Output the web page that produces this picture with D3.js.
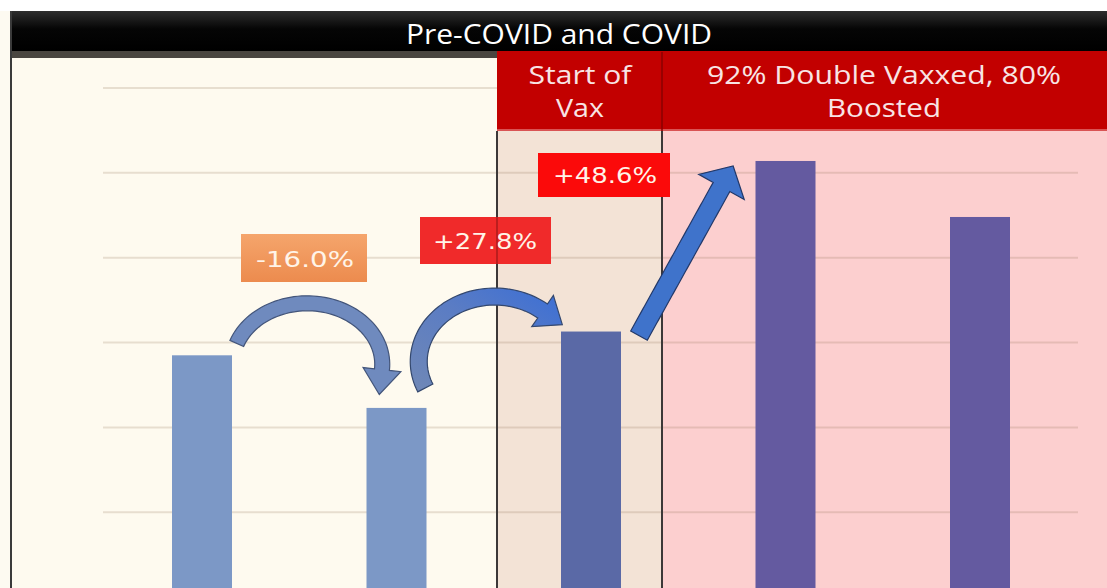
<!DOCTYPE html>
<html>
<head>
<meta charset="utf-8">
<script src="https://cdn.jsdelivr.net/npm/d3@7"></script>
<style>
  html, body { margin: 0; padding: 0; background: #ffffff; }
  svg { display: block; }
</style>
</head>
<body>
<script>
'use strict';

// chart data (arbitrary units)
const periods = ["P1", "P2", "P3", "P4", "P5"];
const values = [385, 323, 413, 614, 548];
const barColors = ["#7c98c6", "#7c98c6", "#5a69a6", "#645aa0", "#645aa0"];
const gridTicks = [100, 200, 300, 400, 500, 600, 700];
const changeLabels = ["-16.0%", "+27.8%", "+48.6%"];
const title = "Pre-COVID and COVID";
const phaseHeaders = [["Start of", "Vax"], ["92% Double Vaxxed, 80%", "Boosted"]];

(function() {
  const W = 1107, H = 588;
  const left = 11, top = 11;
  const split1 = 497, split2 = 662;   // phase boundaries
  const headerBottom = 131;

  const svg = d3.select('body').append('svg')
    .attr('width', W)
    .attr('height', H);

  const defs = svg.append('defs');
  const gTitle = defs.append('linearGradient').attr('id', 'titleGrad')
    .attr('x1', 0).attr('y1', 0).attr('x2', 0).attr('y2', 1);
  gTitle.append('stop').attr('offset', '0%').attr('stop-color', '#2e2e2e');
  gTitle.append('stop').attr('offset', '45%').attr('stop-color', '#050505');
  gTitle.append('stop').attr('offset', '100%').attr('stop-color', '#000000');

  const gOrange = defs.append('linearGradient').attr('id', 'orangeGrad')
    .attr('x1', 0).attr('y1', 0).attr('x2', 0).attr('y2', 1);
  gOrange.append('stop').attr('offset', '0%').attr('stop-color', '#f5a56c');
  gOrange.append('stop').attr('offset', '100%').attr('stop-color', '#ec8b4e');

  const gArrow2 = defs.append('linearGradient').attr('id', 'arrow2Grad')
    .attr('x1', 0).attr('y1', 1).attr('x2', 1).attr('y2', 0);
  gArrow2.append('stop').attr('offset', '0%').attr('stop-color', '#7088b6');
  gArrow2.append('stop').attr('offset', '55%').attr('stop-color', '#5a7cc4');
  gArrow2.append('stop').attr('offset', '100%').attr('stop-color', '#3a6ed6');

  // scales
  const x = d3.scalePoint().domain(periods).range([202, 980]);
  const y = d3.scaleLinear().domain([0, 700]).range([682, 88]);
  const barW = 60;

  // backgrounds
  svg.append('rect').attr('x', 0).attr('y', top).attr('width', left).attr('height', H - top)
    .attr('fill', '#fdfaf1');
  svg.append('rect').attr('x', left).attr('y', 58).attr('width', split1 - left).attr('height', H - 58)
    .attr('fill', '#fefaef');
  svg.append('rect').attr('x', split1).attr('y', headerBottom).attr('width', split2 - split1).attr('height', H - headerBottom)
    .attr('fill', '#f3e3d6');
  svg.append('rect').attr('x', split2).attr('y', headerBottom).attr('width', W - split2).attr('height', H - headerBottom)
    .attr('fill', '#fccfcf');

  // gridlines
  svg.append('g')
    .selectAll('line')
    .data(gridTicks)
    .enter()
    .append('line')
      .attr('x1', 103)
      .attr('x2', 1078)
      .attr('y1', d => y(d))
      .attr('y2', d => y(d))
      .attr('stroke', '#8c6e50')
      .attr('stroke-opacity', 0.2)
      .attr('stroke-width', 2);

  // bars
  svg.append('g')
    .selectAll('rect')
    .data(values)
    .enter()
    .append('rect')
      .attr('x', (d, i) => x(periods[i]) - barW / 2)
      .attr('y', d => y(d))
      .attr('width', barW)
      .attr('height', d => y(0) - y(d))
      .attr('fill', (d, i) => barColors[i]);

  // title bar
  svg.append('rect').attr('x', left).attr('y', top).attr('width', W - left).attr('height', 40)
    .attr('fill', 'url(#titleGrad)');
  svg.append('rect').attr('x', left).attr('y', 51).attr('width', split1 - left).attr('height', 7)
    .attr('fill', '#4a4640');
  svg.append('text')
    .attr('x', 559)
    .attr('y', 44)
    .attr('text-anchor', 'middle')
    .attr('fill', '#ffffff')
    .style('font-family', 'Open Sans, sans-serif')
    .style('font-size', '27px')
    .style('font-weight', 500)
    .attr('textLength', 306)
    .attr('lengthAdjust', 'spacingAndGlyphs')
    .text(title);

  // red phase headers
  svg.append('rect').attr('x', split1).attr('y', 51).attr('width', W - split1).attr('height', headerBottom - 51)
    .attr('fill', '#c20000');
  svg.append('line').attr('x1', split1).attr('x2', W).attr('y1', headerBottom - 1).attr('y2', headerBottom - 1)
    .attr('stroke', '#e07070').attr('stroke-width', 1.5);
  svg.append('line').attr('x1', split2).attr('x2', split2).attr('y1', 52).attr('y2', headerBottom)
    .attr('stroke', '#8a0000').attr('stroke-width', 1.5);

  const headerCenters = [580, 884];
  const headerWidths = [[103, 48], [354, 114]];
  phaseHeaders.forEach((lines, i) => {
    lines.forEach((t, j) => {
      svg.append('text')
        .attr('x', headerCenters[i])
        .attr('y', 84 + j * 33)
        .attr('text-anchor', 'middle')
        .attr('fill', '#f8e4e4')
        .style('font-family', 'Open Sans, sans-serif')
        .style('font-size', '25px')
        .attr('textLength', headerWidths[i][j])
        .attr('lengthAdjust', 'spacingAndGlyphs')
        .text(t);
    });
  });

  // frame lines
  svg.append('line').attr('x1', left).attr('x2', left).attr('y1', top).attr('y2', H)
    .attr('stroke', '#3a3a3a').attr('stroke-width', 2);
  [split1, split2].forEach(sx => {
    svg.append('line').attr('x1', sx).attr('x2', sx).attr('y1', headerBottom).attr('y2', H)
      .attr('stroke', '#3c3838').attr('stroke-width', 2);
  });

  // builds an arrow outline along a centre line function c(t) with tangent dc(t)
  function arrowPath(c, dc, width, headLen, headW) {
    const n = 60, L = [], R = [];
    for (let k = 0; k <= n; k++) {
      const t = k / n;
      const p = c(t), d = dc(t);
      const len = Math.hypot(d[0], d[1]);
      const nx = -d[1] / len, ny = d[0] / len;
      L.push([p[0] + nx * width / 2, p[1] + ny * width / 2]);
      R.push([p[0] - nx * width / 2, p[1] - ny * width / 2]);
    }
    const pe = c(1), de = dc(1);
    const dl = Math.hypot(de[0], de[1]);
    const ux = de[0] / dl, uy = de[1] / dl;
    const head = [
      [pe[0] - uy * headW / 2, pe[1] + ux * headW / 2],
      [pe[0] + ux * headLen, pe[1] + uy * headLen],
      [pe[0] + uy * headW / 2, pe[1] - ux * headW / 2]
    ];
    const pts = L.concat(head).concat(R.reverse());
    return d3.line().curve(d3.curveLinearClosed)(pts);
  }

  function ellipseArrow(cx, cy, rx, ry, a0, a1) {
    const r0 = a0 * Math.PI / 180, r1 = a1 * Math.PI / 180;
    const c = t => {
      const a = r0 + (r1 - r0) * t;
      return [cx + rx * Math.cos(a), cy + ry * Math.sin(a)];
    };
    const dc = t => {
      const a = r0 + (r1 - r0) * t;
      return [-rx * Math.sin(a), ry * Math.cos(a)];
    };
    return [c, dc];
  }

  const xs = periods.map(p => x(p));
  const ys = values.map(v => y(v));

  // curved arrow bar1 -> bar2
  const a1 = ellipseArrow((xs[0] + xs[1]) / 2 + 8, ys[0] + 9, 75, 61, 200, 365);
  svg.append('path')
    .attr('d', arrowPath(a1[0], a1[1], 15, 25, 38))
    .attr('fill', '#6f8abe')
    .attr('stroke', '#43557a')
    .attr('stroke-width', 1.2);

  // curved arrow bar2 -> bar3
  const a2 = ellipseArrow((xs[1] + xs[2]) / 2 + 1, ys[2] + 30, 76, 65, 156, 309);
  svg.append('path')
    .attr('d', arrowPath(a2[0], a2[1], 17, 24, 38))
    .attr('fill', 'url(#arrow2Grad)')
    .attr('stroke', '#34486e')
    .attr('stroke-width', 1.2);

  // straight arrow bar3 -> bar4
  const s0 = [xs[2] + 48, ys[2] + 4];
  const s1 = [xs[3] - 64, ys[3] + 26];
  const sl = t => [s0[0] + (s1[0] - s0[0]) * t, s0[1] + (s1[1] - s0[1]) * t];
  const sd = t => [s1[0] - s0[0], s1[1] - s0[1]];
  svg.append('path')
    .attr('d', arrowPath(sl, sd, 19, 24, 52))
    .attr('fill', '#3f73cb')
    .attr('stroke', '#22396a')
    .attr('stroke-width', 1.2);

  // change labels
  const labelBoxes = [
    {x: 241, y: 234, w: 126, h: 48, fill: 'url(#orangeGrad)', tx: 305, ty: 267, tw: 98},
    {x: 420, y: 217, w: 131, h: 47, fill: '#f02a2a', tx: 485, ty: 249, tw: 104},
    {x: 538, y: 153, w: 132, h: 44, fill: '#fb0a0a', tx: 605, ty: 183, tw: 104}
  ];
  changeLabels.forEach((lab, i) => {
    const b = labelBoxes[i];
    svg.append('rect')
      .attr('x', b.x).attr('y', b.y).attr('width', b.w).attr('height', b.h)
      .attr('fill', b.fill);
    svg.append('text')
      .attr('x', b.tx)
      .attr('y', b.ty)
      .attr('text-anchor', 'middle')
      .attr('fill', '#fff4e8')
      .style('font-family', 'DejaVu Sans, Verdana, sans-serif')
      .style('font-size', '21px')
      .attr('textLength', b.tw)
      .attr('lengthAdjust', 'spacingAndGlyphs')
      .text(lab);
  });

  // divider shows through the +27.8% box
  svg.append('line').attr('x1', split1).attr('x2', split1).attr('y1', 217).attr('y2', 264)
    .attr('stroke', '#7a1010').attr('stroke-width', 1.5).attr('stroke-opacity', 0.6);
})();
</script>
</body>
</html>
